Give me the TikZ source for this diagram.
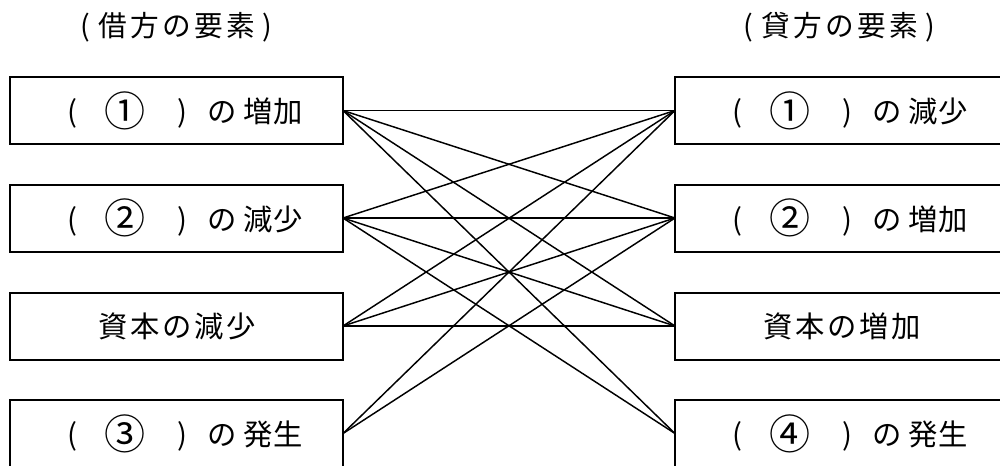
\documentclass[tikz,border=0pt]{standalone}
\usepackage{fontspec}
\usepackage{graphicx}
\setmainfont{Noto Sans CJK JP}
\newfontfamily\jpfont{Noto Sans CJK JP}
\newcommand{\cc}[2]{\makebox[0pt][l]{\hspace*{#1}\makebox[0pt][c]{#2}}}
\newcommand{\cnum}[1]{\raisebox{-0.12em}{\scalebox{1.4}{#1}}}
\newcommand{\plbl}[3]{\makebox[249.75pt][l]{\cc{46.5pt}{(}\cc{86.5pt}{\cnum{#1}}\cc{129pt}{)}\cc{159pt}{の}\cc{186pt}{#2}\cc{209pt}{#3}}}
\newcommand{\flbl}[5]{\makebox[249.75pt][l]{\cc{77.25pt}{#1}\cc{101.25pt}{#2}\cc{125.25pt}{#3}\cc{149.25pt}{#4}\cc{173.25pt}{#5}}}
\newcommand{\hlbl}[4]{\makebox[0pt][l]{\cc{-69pt}{(}\cc{-48pt}{#1}\cc{-24pt}{#2}\cc{0pt}{の}\cc{24pt}{#3}\cc{48pt}{#4}\cc{68pt}{)}}}
\tikzset{
  box/.style={draw, line width=1.5pt, minimum width=249.75pt, minimum height=50.25pt,
    inner sep=0pt, outer sep=0pt, font=\jpfont\fontsize{22}{22}\selectfont},
  link/.style={line width=1.1pt},
  head/.style={inner sep=0pt, font=\jpfont\fontsize{21.5}{21.5}\selectfont}
}
\begin{document}
\begin{tikzpicture}[x=0.75pt, y=-0.75pt]
\useasboundingbox (0,0) rectangle (1000,465);
\clip (0,0) rectangle (1000,465);
\node[head] (hl) at (177,27) {\hlbl{借}{方}{要}{素}};
\node[head] (hr) at (840,27) {\hlbl{貸}{方}{要}{素}};
\node[box] (L1) at (176.5,110.5) {\plbl{①}{増}{加}};
\node[box] (L2) at (176.5,218) {\plbl{②}{減}{少}};
\node[box] (L3) at (176.5,326) {\flbl{資}{本}{の}{減}{少}};
\node[box] (L4) at (176.5,433.5) {\plbl{③}{発}{生}};
\node[box] (R1) at (841.5,110.5) {\plbl{①}{減}{少}};
\node[box] (R2) at (841.5,218) {\plbl{②}{増}{加}};
\node[box] (R3) at (841.5,326) {\flbl{資}{本}{の}{増}{加}};
\node[box] (R4) at (841.5,433.5) {\plbl{④}{発}{生}};
\foreach \r in {R1,R2,R3,R4} \draw[link] (L1.east) -- (\r.west);
\foreach \r in {R1,R2,R3,R4} \draw[link] (L2.east) -- (\r.west);
\foreach \r in {R1,R2,R3} \draw[link] (L3.east) -- (\r.west);
\foreach \r in {R1,R2} \draw[link] (L4.east) -- (\r.west);
\end{tikzpicture}
\end{document}
